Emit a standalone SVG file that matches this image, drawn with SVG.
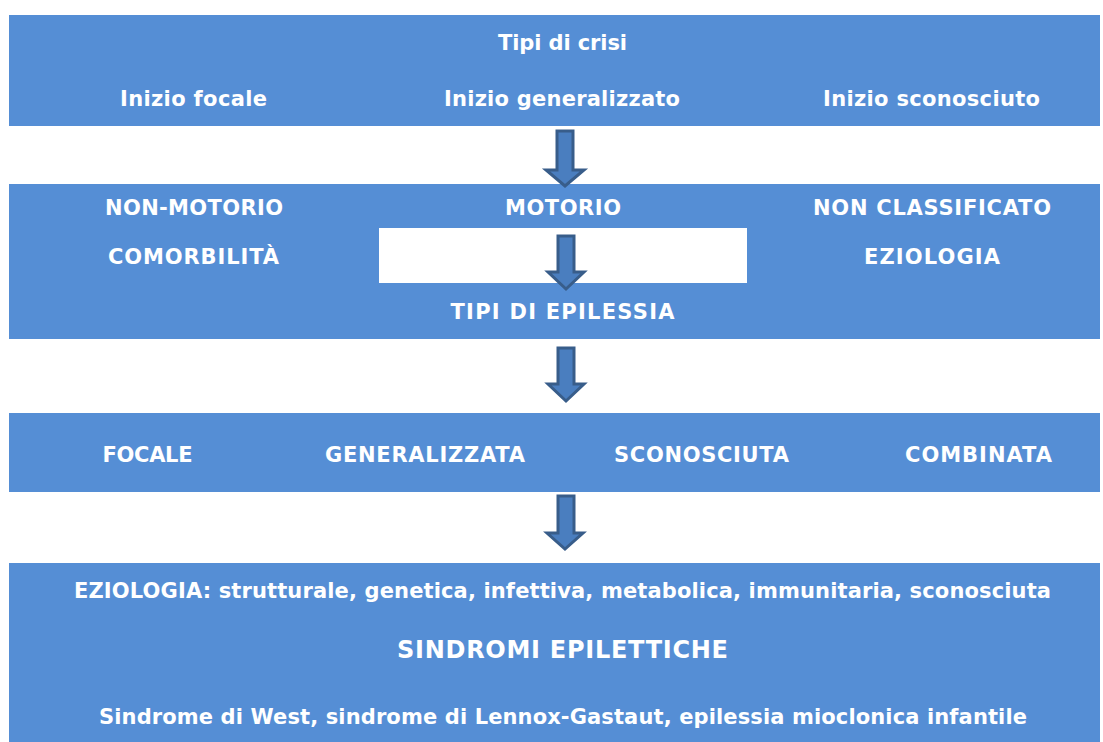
<svg xmlns="http://www.w3.org/2000/svg" width="1103" height="742" viewBox="0 0 1103 742">
<style>
.band{fill:#558ed5}
.hole{fill:#ffffff}
text{font-family:"DejaVu Sans",Verdana,sans-serif;font-weight:bold;fill:#ffffff;font-size:21px;text-anchor:middle}
.big{font-size:24px}
.arrow{fill:#4a7ebf;stroke:#385d8a;stroke-width:3;stroke-linejoin:miter}
</style>
<rect width="1103" height="742" fill="#ffffff"/>
<g id="tipi-crisi">
<rect class="band" x="9" y="15" width="1091" height="111"/>
<text x="562.5" y="50" textLength="129" lengthAdjust="spacing">Tipi di crisi</text>
<text x="193.5" y="106" textLength="147" lengthAdjust="spacing">Inizio focale</text>
<text x="562" y="106" textLength="236" lengthAdjust="spacing">Inizio generalizzato</text>
<text x="931.5" y="106" textLength="217" lengthAdjust="spacing">Inizio sconosciuto</text>
</g>
<g id="classificazione">
<rect class="band" x="9" y="184" width="1091" height="155"/>
<rect class="hole" x="379" y="228" width="368" height="55"/>
<text x="194" y="215" textLength="178" lengthAdjust="spacing">NON-MOTORIO</text>
<text x="563" y="215" textLength="116" lengthAdjust="spacing">MOTORIO</text>
<text x="932" y="215" textLength="238" lengthAdjust="spacing">NON CLASSIFICATO</text>
<text x="193.5" y="264" textLength="171" lengthAdjust="spacing">COMORBILITÀ</text>
<text x="932" y="264" textLength="136" lengthAdjust="spacing">EZIOLOGIA</text>
<text x="562.5" y="319" textLength="224" lengthAdjust="spacing">TIPI DI EPILESSIA</text>
</g>
<g id="tipi-epilessia">
<rect class="band" x="9" y="413" width="1091" height="79"/>
<text x="147.5" y="462" textLength="90" lengthAdjust="spacing">FOCALE</text>
<text x="425" y="462" textLength="200" lengthAdjust="spacing">GENERALIZZATA</text>
<text x="701.5" y="462" textLength="175" lengthAdjust="spacing">SCONOSCIUTA</text>
<text x="978.5" y="462" textLength="147" lengthAdjust="spacing">COMBINATA</text>
</g>
<g id="eziologia-sindromi">
<rect class="band" x="9" y="563" width="1091" height="179"/>
<text x="562.5" y="598" textLength="977" lengthAdjust="spacing">EZIOLOGIA: strutturale, genetica, infettiva, metabolica, immunitaria, sconosciuta</text>
<text class="big" x="562.5" y="658" textLength="331" lengthAdjust="spacing">SINDROMI EPILETTICHE</text>
<text x="563" y="724" textLength="928" lengthAdjust="spacing">Sindrome di West, sindrome di Lennox-Gastaut, epilessia mioclonica infantile</text>
</g>
<g id="connectors">
<polygon class="arrow" points="557,131 573,131 573,170 584,170 565,186 546,170 557,170"/>
<polygon class="arrow" points="558,236 574,236 574,272 584,272 566,289 548,272 558,272"/>
<polygon class="arrow" points="558,348 574,348 574,384 584,384 566,401 548,384 558,384"/>
<polygon class="arrow" points="558,496 574,496 574,533 583,533 565,549 547,533 558,533"/>
</g>
</svg>
